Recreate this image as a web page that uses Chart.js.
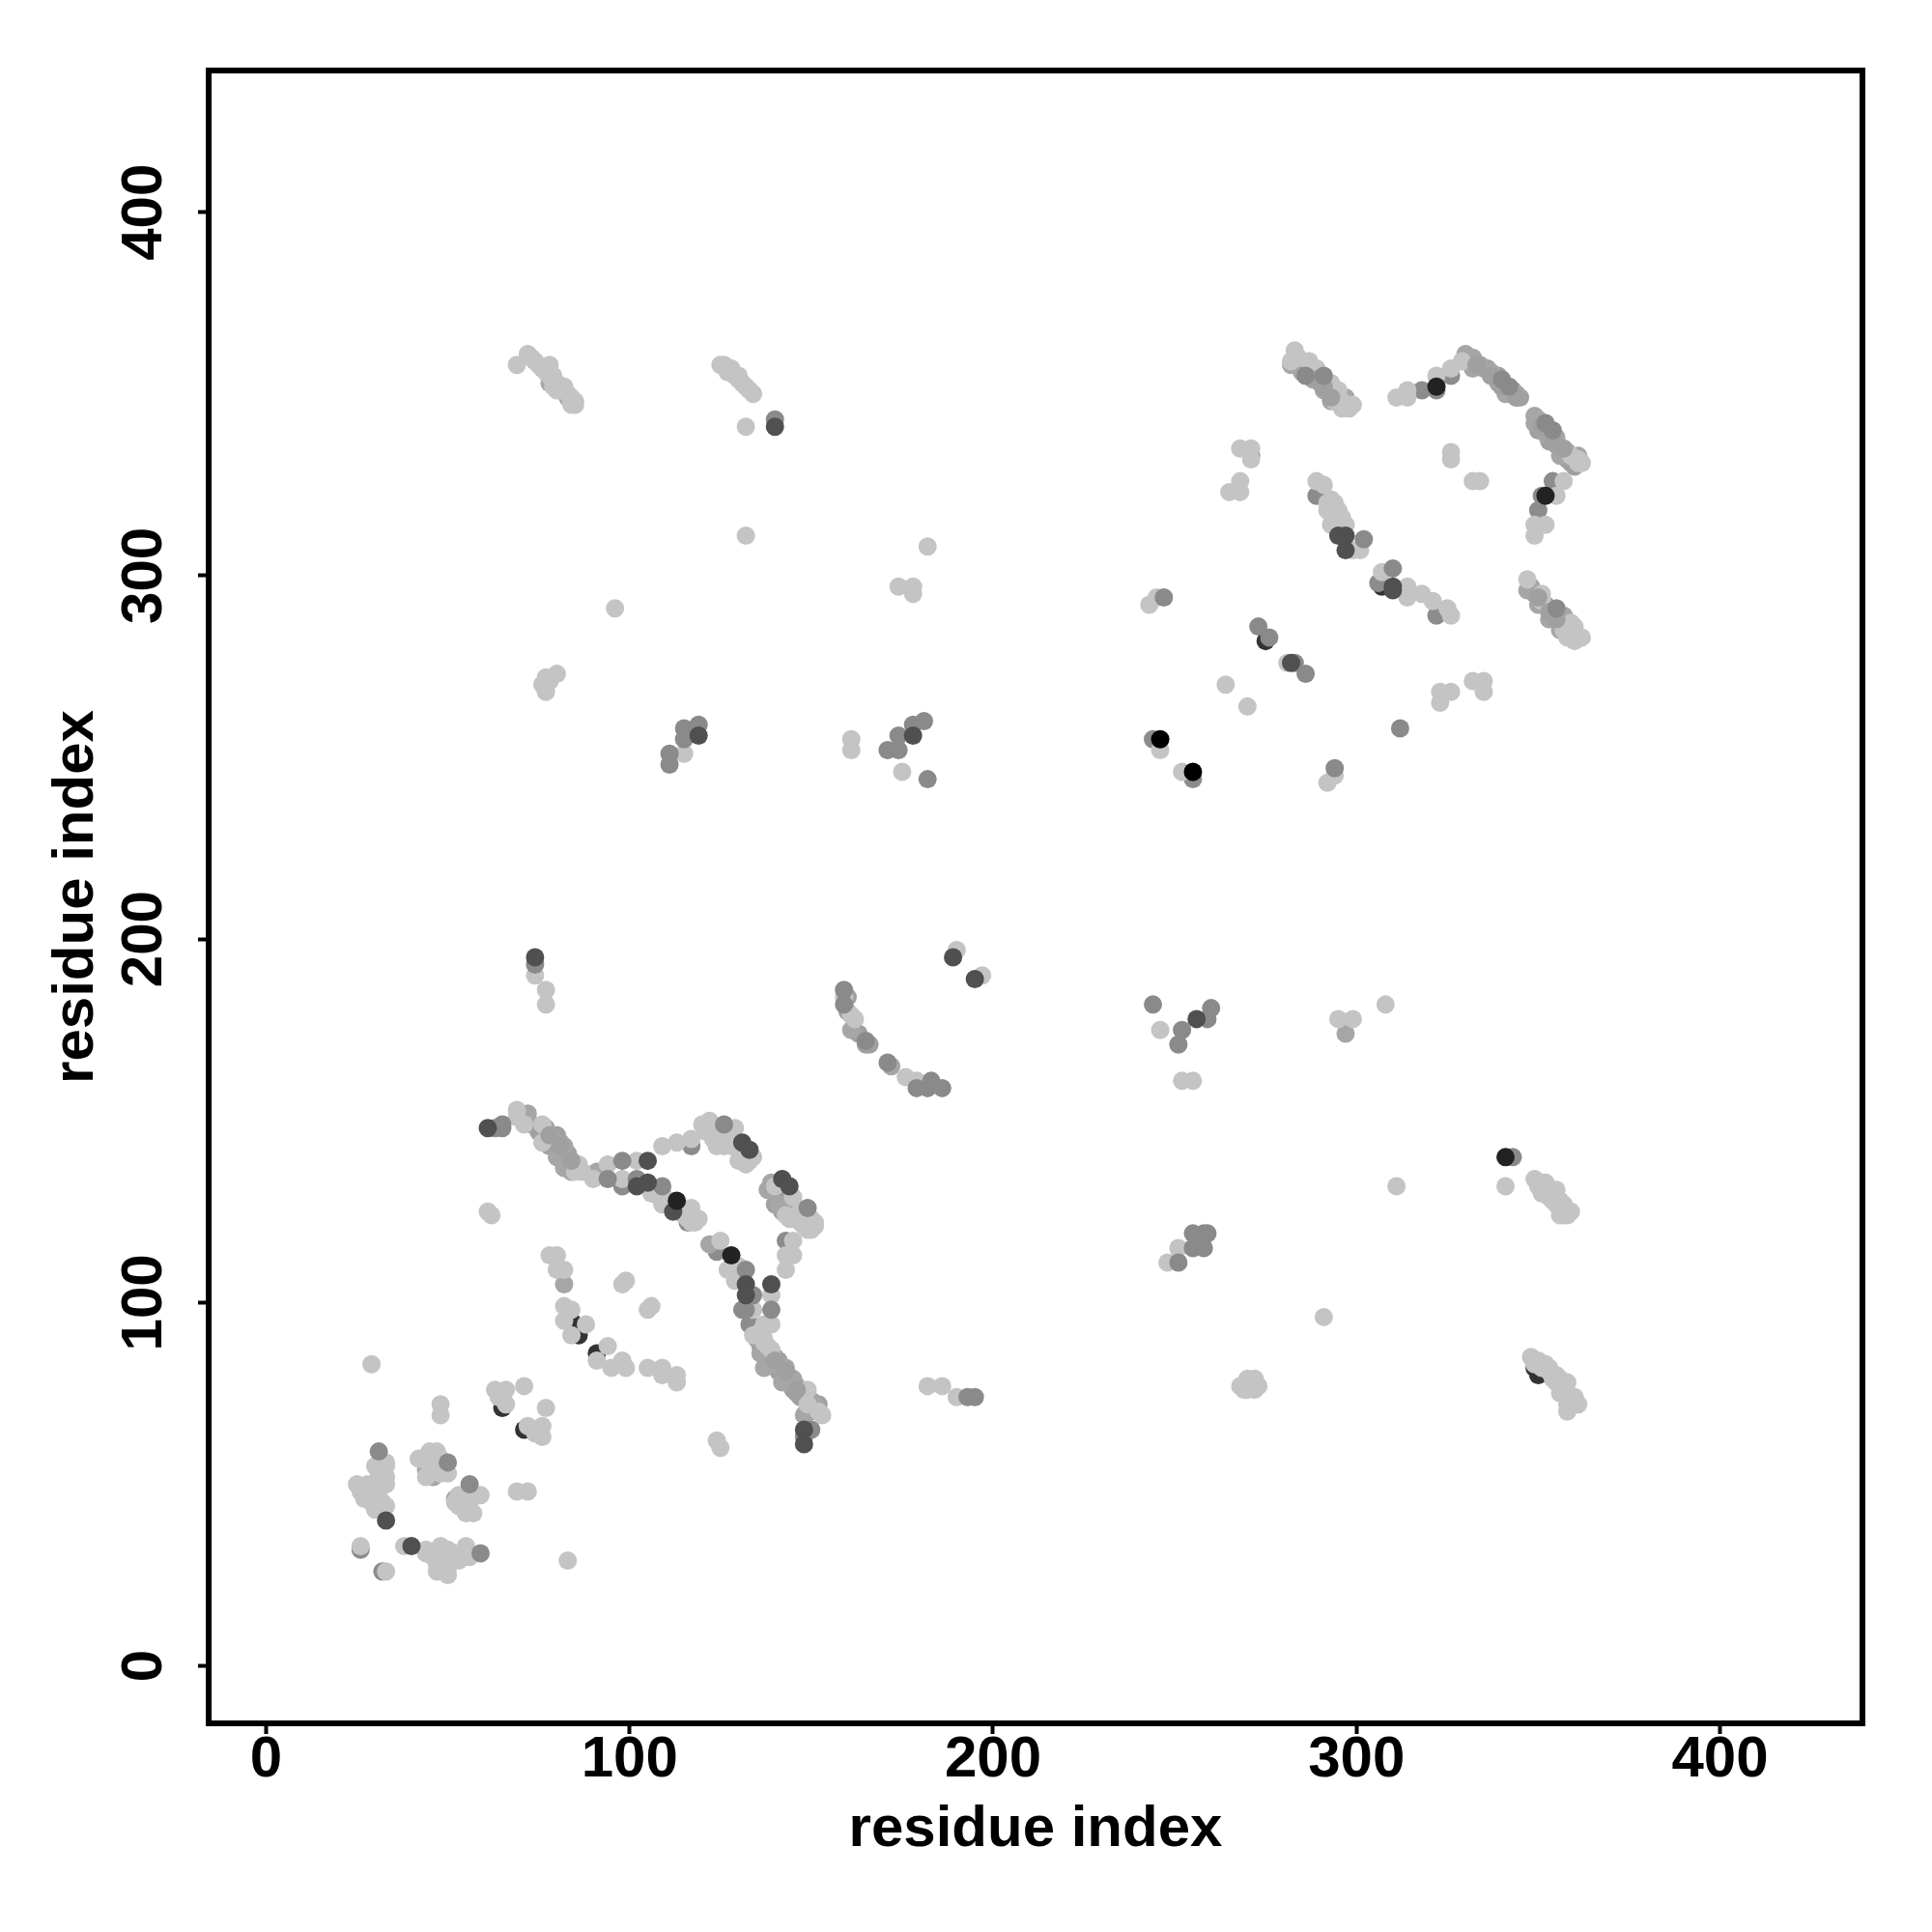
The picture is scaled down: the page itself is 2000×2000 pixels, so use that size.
<!DOCTYPE html>
<html lang="en">
<head>
    <meta charset="UTF-8">
    <title>residue contacts</title>
    <script src="https://cdn.jsdelivr.net/npm/chart.js"></script>
    <style>
        html, body { margin: 0; background: #fff; }
        #wrap { position: relative; width: 2000px; height: 2000px; }
    </style>
</head>
<body>
    <div id="wrap"><canvas id="contactChart" width="2000" height="2000"></canvas></div>

    <script>
        const xTickValues = [0, 100, 200, 300, 400];
        const yTickValues = [0, 100, 200, 300, 400];

        // [x, y], one list per grey level, bottom layer first
        const darkLow = [[65,71],[71,65],[107,130],[129,108],[84,95],[91,86],[86,91],[307,297],[349,82],[350,80],[275,282]];
        const midLow = [[26,32],[32,26],[124,114],[143,117],[116,122],[98,132],[117,143],[131,98],[133,94],[148,63],[322,289],[271,333],[244,255],[255,244],[351,322],[289,322],[306,298],[322,351],[318,351],[326,355],[354,326],[350,318]];
        const greyStrands = [[73,149],[75,147],[76,146],[77,146],[78,145],[78,143],[79,143],[80,142],[81,141],[82,140],[83,138],[84,138],[85,137],[81,144],[80,146],[83,141],[84,139],[135,90],[136,88],[137,86],[138,84],[139,84],[140,85],[141,84],[141,81],[142,80],[143,80],[144,79],[145,76],[146,75],[147,75],[147,74],[148,74],[149,71],[150,70],[150,73],[152,72],[283,360],[284,358],[285,358],[286,357],[287,356],[288,355],[289,354],[290,353],[291,352],[292,351],[293,350],[294,350],[295,349],[333,358],[335,357],[336,357],[338,355],[339,355],[340,352],[341,352],[342,350],[343,351],[345,349],[344,349],[350,343],[351,342],[350,340],[351,340],[353,339],[353,337],[355,336],[356,335],[357,334],[358,334],[358,332],[359,331],[360,330],[348,296],[349,295],[350,294],[352,292],[353,291],[354,290],[355,289],[356,288],[357,287],[139,131],[141,130],[142,129],[143,128],[144,127],[145,126],[140,127],[142,125],[160,184],[163,174],[166,171],[165,171],[160,180]];
        const greyPts = [[72,152],[72,150],[77,148],[79,145],[82,143],[83,140],[80,140],[82,137],[84,136],[91,136],[122,116],[124,148],[125,146],[128,146],[139,133],[138,131],[141,127],[146,126],[136,86],[140,83],[137,82],[143,82],[142,78],[145,79],[146,77],[151,72],[148,69],[282,358],[285,356],[288,354],[291,351],[293,348],[297,349],[330,361],[332,360],[332,357],[334,358],[337,356],[339,353],[341,350],[344,350],[349,344],[349,342],[352,339],[355,338],[356,333],[361,333],[347,296],[348,297],[350,292],[353,288],[357,289],[356,285],[78,353],[83,349],[84,348],[161,175],[172,165],[44,54],[46,52],[52,46],[297,174],[82,105]];
        const lightPts = [[69,153],[69,151],[71,149],[76,149],[76,144],[86,138],[87,136],[90,134],[94,138],[102,139],[98,134],[106,130],[109,130],[109,127],[114,125],[117,126],[117,124],[116,123],[109,143],[113,144],[117,145],[120,149],[122,150],[123,145],[124,143],[132,138],[130,139],[134,140],[145,129],[144,123],[150,123],[149,120],[125,117],[127,109],[130,110],[129,106],[134,98],[137,94],[139,94],[139,102],[145,117],[143,113],[145,113],[143,109],[134,91],[137,89],[139,87],[149,76],[149,72],[153,69],[78,113],[80,113],[80,109],[82,109],[99,106],[98,105],[105,98],[106,99],[82,99],[84,98],[82,95],[88,94],[84,91],[94,88],[91,84],[98,84],[95,82],[99,82],[105,82],[109,82],[109,80],[113,80],[113,78],[29,83],[48,72],[48,69],[63,76],[66,76],[71,77],[64,74],[66,72],[77,71],[72,66],[74,64],[76,66],[76,63],[124,62],[125,60],[30,55],[33,55],[33,56],[25,50],[26,48],[28,50],[32,50],[30,47],[32,45],[30,43],[33,44],[42,57],[45,59],[47,59],[45,55],[44,52],[53,47],[59,47],[56,45],[55,43],[57,42],[69,48],[72,48],[26,33],[38,33],[44,32],[44,31],[47,31],[50,32],[50,29],[55,33],[56,30],[47,26],[50,25],[50,27],[83,29],[33,26],[61,125],[62,124],[283,362],[282,359],[284,360],[287,359],[289,357],[293,353],[295,351],[298,347],[299,347],[311,349],[314,351],[314,349],[322,355],[326,357],[329,359],[361,331],[357,326],[355,322],[349,314],[352,314],[349,311],[326,334],[326,332],[332,326],[334,326],[268,335],[271,335],[271,332],[268,326],[265,323],[268,323],[289,326],[291,325],[293,321],[294,318],[295,318],[293,314],[297,314],[301,307],[299,307],[307,301],[314,297],[314,294],[318,295],[321,293],[325,291],[326,289],[347,299],[351,295],[359,287],[358,283],[362,283],[243,292],[245,294],[264,270],[270,264],[323,268],[326,268],[323,265],[332,271],[335,271],[335,268],[246,252],[252,246],[292,243],[294,245],[281,276],[69,358],[72,361],[78,358],[79,355],[82,352],[84,349],[125,358],[127,357],[130,355],[132,352],[134,350],[132,341],[132,311],[96,291],[182,308],[174,297],[178,297],[178,295],[77,272],[80,273],[76,270],[77,268],[78,271],[115,251],[161,255],[161,252],[175,246],[74,190],[77,186],[77,182],[190,197],[197,190],[161,179],[176,162],[179,161],[246,175],[252,161],[255,161],[299,178],[295,178],[308,182],[311,132],[341,132],[291,96],[349,134],[352,133],[355,131],[351,130],[356,128],[357,124],[359,125],[355,129],[248,111],[251,115],[182,77],[186,77],[190,74],[268,77],[271,77],[272,79],[270,79],[270,76],[348,85],[350,84],[352,83],[355,80],[356,77],[358,78],[360,72],[358,70]];
        const lightStrands = [[73,360],[74,359],[75,358],[76,357],[77,356],[78,355],[79,354],[80,353],[81,352],[82,351],[83,350],[85,348],[85,347],[84,347],[80,351],[79,352],[126,358],[128,356],[129,355],[131,353],[133,351],[127,356],[128,357],[130,354],[296,348],[294,348],[297,347],[298,346],[296,346],[362,331],[359,333],[361,332],[351,293],[358,286],[359,285],[360,284],[361,283],[358,284],[360,286],[357,285],[359,283],[360,282],[349,83],[351,82],[353,81],[354,79],[355,78],[353,82],[356,79],[357,76],[358,75],[359,74],[358,72],[361,72],[360,74],[356,75],[350,132],[351,133],[353,131],[353,129],[354,128],[355,127],[356,126],[357,126],[358,124],[356,124],[357,127],[121,147],[122,147],[123,148],[124,146],[126,146],[127,147],[127,144],[129,144],[129,148],[130,143],[131,142],[131,141],[132,141],[133,139],[126,143],[128,143],[146,124],[147,125],[148,124],[149,123],[147,122],[148,121],[150,120],[151,122],[151,121],[143,124],[140,132],[50,53],[48,53],[45,53],[47,55],[46,57],[48,57],[31,46],[29,45],[31,48],[28,47],[27,46],[33,50],[33,52],[31,53],[55,46],[54,45],[53,44],[52,45],[55,42],[56,47],[46,30],[49,29],[48,33],[52,31],[53,29],[47,28],[49,26],[51,30],[136,92],[137,90],[138,88],[85,136],[152,70],[292,320],[293,317],[294,316],[295,315],[296,316],[292,318],[294,320],[159,184],[162,178],[272,77],[273,77],[272,76],[269,76],[111,128],[112,126],[115,124],[118,122],[117,122],[119,123],[116,125]];
        const greyTop = [[289,354],[291,352],[293,349],[333,358],[337,355],[340,352],[344,349],[351,341],[354,338],[357,335],[350,294],[353,290],[355,288],[78,146],[81,143],[84,139],[140,84],[143,81],[146,76]];
        const midPts = [[63,148],[65,148],[102,134],[98,139],[94,134],[109,132],[126,149],[149,126],[132,109],[134,102],[150,65],[50,56],[31,59],[56,50],[59,31],[291,355],[286,355],[342,352],[340,354],[352,342],[354,340],[355,291],[310,302],[302,310],[247,294],[273,286],[276,283],[283,276],[286,273],[312,258],[294,247],[111,251],[111,248],[115,258],[115,255],[119,259],[171,252],[174,256],[174,252],[178,259],[181,260],[182,244],[74,193],[159,186],[159,182],[165,172],[171,166],[179,159],[183,161],[182,159],[186,159],[244,182],[251,171],[252,175],[259,178],[260,181],[343,140],[255,119],[255,115],[258,119],[259,119],[258,115],[251,111],[193,74],[195,74],[140,343],[65,149],[139,98],[132,98]];
        const darkPts = [[61,148],[105,139],[102,132],[105,133],[112,125],[131,144],[142,134],[144,132],[132,105],[139,105],[148,65],[148,61],[33,40],[40,33],[295,311],[297,311],[297,307],[310,296],[310,297],[282,276],[74,195],[189,195],[195,189],[119,256],[178,256],[256,178],[140,341],[132,102],[133,142]];
        const nearBlack = [[113,128],[128,113],[322,352],[352,322],[341,140]];
        const blackPts = [[246,255],[255,246]];

        const shadeLayers = [
            { points: darkLow, color: '#333333' },
            { points: midLow, color: '#8c8c8c' },
            { points: greyStrands, color: '#a0a0a0' },
            { points: greyPts, color: '#a6a6a6' },
            { points: lightPts, color: '#c4c4c4' },
            { points: lightStrands, color: '#c4c4c4' },
            { points: greyTop, color: '#a0a0a0' },
            { points: midPts, color: '#8a8a8a' },
            { points: darkPts, color: '#505050' },
            { points: nearBlack, color: '#222222' },
            { points: blackPts, color: '#000000' }
        ];

        const fontFamily = "'Liberation Sans', Arial, sans-serif";

        // box round the plot and the sideways y labels
        const frameAndLabels = {
            id: 'frameAndLabels',
            afterDraw(chart) {
                const { ctx, chartArea, scales } = chart;
                ctx.save();
                ctx.strokeStyle = '#000';
                ctx.lineWidth = 6;
                ctx.strokeRect(chartArea.left, chartArea.top, chartArea.right - chartArea.left, chartArea.bottom - chartArea.top);
                ctx.fillStyle = '#000';
                ctx.font = 'bold 60px ' + fontFamily;
                ctx.textAlign = 'center';
                ctx.textBaseline = 'middle';
                yTickValues.forEach((v) => {
                    ctx.save();
                    ctx.translate(150, scales.y.getPixelForValue(v));
                    ctx.rotate(-Math.PI / 2);
                    ctx.fillText(String(v), 0, 0);
                    ctx.restore();
                });
                ctx.restore();
            }
        };

        new Chart(document.getElementById('contactChart'), {
            type: 'scatter',
            data: {
                datasets: shadeLayers.map((layer, i) => ({
                    data: layer.points.map((p) => ({ x: p[0], y: p[1] })),
                    backgroundColor: layer.color,
                    pointRadius: 9.5,
                    pointBorderWidth: 0,
                    order: -i
                }))
            },
            options: {
                responsive: false,
                animation: false,
                layout: { padding: { top: 73, right: 72, left: 43, bottom: 70 } },
                plugins: { legend: { display: false }, tooltip: { enabled: false } },
                scales: {
                    x: {
                        type: 'linear',
                        min: -15.8,
                        max: 439.2,
                        afterBuildTicks: (axis) => { axis.ticks = xTickValues.map((v) => ({ value: v })); },
                        afterFit: (axis) => { axis.height = 146; },
                        grid: { drawOnChartArea: false, tickLength: 11, tickWidth: 4, tickColor: '#000' },
                        border: { display: false },
                        ticks: {
                            color: '#000',
                            padding: -9,
                            maxRotation: 0,
                            font: { family: fontFamily, size: 60, weight: 'bold' }
                        },
                        title: {
                            display: true,
                            text: 'residue index',
                            color: '#000',
                            padding: { top: 0, bottom: 0 },
                            font: { family: fontFamily, size: 60, weight: 'bold' }
                        }
                    },
                    y: {
                        type: 'linear',
                        min: -15.8,
                        max: 439,
                        afterBuildTicks: (axis) => { axis.ticks = yTickValues.map((v) => ({ value: v })); },
                        afterFit: (axis) => { axis.width = 173; },
                        grid: { drawOnChartArea: false, tickLength: 11, tickWidth: 4, tickColor: '#000' },
                        border: { display: false },
                        ticks: { display: false },
                        title: {
                            display: true,
                            text: 'residue index',
                            color: '#000',
                            padding: { top: 0, bottom: 0 },
                            font: { family: fontFamily, size: 60, weight: 'bold' }
                        }
                    }
                }
            },
            plugins: [frameAndLabels]
        });
    </script>
</body>
</html>
